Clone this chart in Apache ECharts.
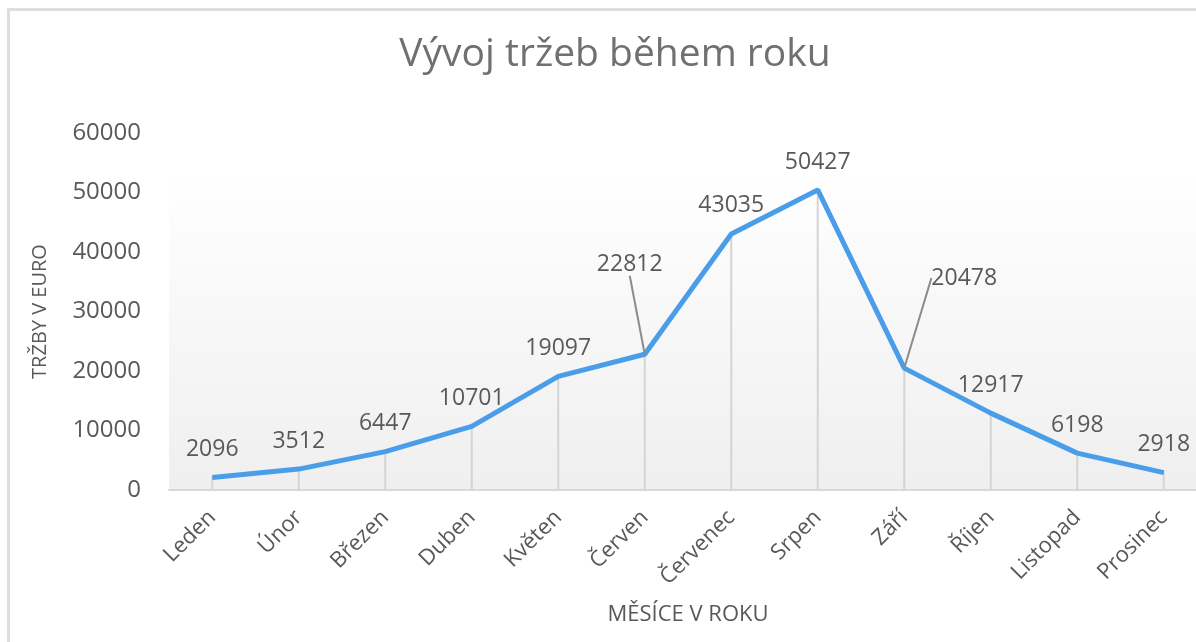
<!DOCTYPE html>
<html>
<head>
<meta charset="utf-8">
<script src="https://cdn.jsdelivr.net/npm/echarts@6/dist/echarts.min.js"></script>
<style>
  html, body { margin: 0; padding: 0; background: #fff; overflow: hidden; }
  #frame { position: absolute; left: 7px; top: 8px; width: 1196px; height: 640px;
           border-top: 3px solid #dedede; border-left: 3px solid #dedede; }
  #chart { position: absolute; left: 0; top: 0; width: 1212px; height: 642px; }
</style>
</head>
<body>
<div id="frame"></div>
<div id="chart"></div>
<script>
var months = ["Leden", "Únor", "Březen", "Duben", "Květen", "Červen", "Červenec", "Srpen", "Září", "Říjen", "Listopad", "Prosinec"];
var trzby = [2096, 3512, 6447, 10701, 19097, 22812, 43035, 50427, 20478, 12917, 6198, 2918];

var textColor = "#595959";
var fontName = "'Open Sans', 'Noto Sans', sans-serif";

// posunute popisky s odkazovou carou (Cerven, Zari)
var moved = { 5: { dx: -15, dy: -62 }, 8: { dx: 60, dy: -62 } };

var lineData = trzby.map(function (v, i) {
  var item = { value: v };
  if (moved[i]) {
    item.labelLine = { show: true };
  }
  return item;
});

var chart = echarts.init(document.getElementById("chart"));
var option = {
  backgroundColor: "transparent",
  title: {
    text: "Vývoj tržeb během roku",
    left: 610,
    top: 30,
    textAlign: "center",
    textStyle: {
      color: "#707070",
      fontFamily: fontName,
      fontWeight: "normal",
      fontSize: 39
    }
  },
  grid: {
    left: 169,
    top: 133,
    width: 1038,
    height: 357,
    show: true,
    borderWidth: 0,
    backgroundColor: new echarts.graphic.LinearGradient(0, 0, 0, 1, [
      { offset: 0, color: "#ffffff" },
      { offset: 0.1, color: "#ffffff" },
      { offset: 1, color: "#efefef" }
    ])
  },
  xAxis: {
    type: "category",
    data: months,
    boundaryGap: true,
    name: "MĚSÍCE V ROKU",
    nameLocation: "middle",
    nameGap: 114,
    nameTextStyle: { color: textColor, fontFamily: fontName, fontSize: 22 },
    axisLine: { lineStyle: { color: "#d9d9d9", width: 2 } },
    axisTick: { show: false },
    axisLabel: {
      rotate: 45,
      color: textColor,
      fontFamily: fontName,
      fontSize: 22,
      margin: 24
    }
  },
  yAxis: {
    type: "value",
    min: 0,
    max: 60000,
    interval: 10000,
    name: "TRŽBY V EURO",
    nameLocation: "middle",
    nameGap: 119,
    nameTextStyle: { color: textColor, fontFamily: fontName, fontSize: 20 },
    axisLine: { show: false },
    axisTick: { show: false },
    splitLine: { show: false },
    axisLabel: {
      color: textColor,
      fontFamily: fontName,
      fontSize: 24,
      margin: 28,
      formatter: function (v) { return String(v); }
    }
  },
  series: [
    {
      // svisle cary od bodu k ose
      type: "bar",
      data: trzby,
      barWidth: 2,
      itemStyle: { color: "#d4d4d4" },
      silent: true,
      z: 1
    },
    {
      type: "line",
      data: lineData,
      symbol: "circle",
      symbolSize: 1,
      itemStyle: { color: "#4a9ee9" },
      lineStyle: { color: "#4a9ee9", width: 5 },
      z: 3,
      label: {
        show: true,
        position: "top",
        distance: 16,
        color: textColor,
        fontFamily: fontName,
        fontSize: 23
      },
      labelLine: {
        show: false,
        lineStyle: { color: "#8c8c8c", width: 2 }
      },
      labelLayout: function (params) {
        var m = moved[params.dataIndex];
        if (m) {
          return { dx: m.dx, dy: m.dy };
        }
        return {};
      }
    }
  ]
};
chart.setOption(option);
</script>
</body>
</html>
